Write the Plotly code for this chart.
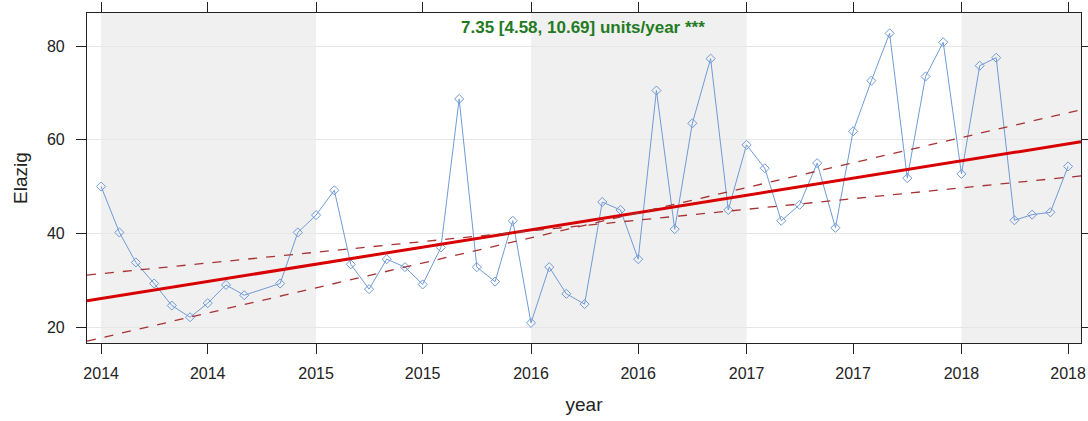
import pandas as pd
import numpy as np
import plotly.graph_objects as go

# ---- data ----
months = [
    "2014-01", "2014-02", "2014-03", "2014-04", "2014-05", "2014-06", "2014-07", "2014-08", "2014-09",
    "2014-11", "2014-12",
    "2015-01", "2015-02", "2015-03", "2015-04", "2015-05", "2015-06", "2015-07", "2015-08", "2015-09",
    "2015-10", "2015-11", "2015-12",
    "2016-01", "2016-02", "2016-03", "2016-04", "2016-05", "2016-06", "2016-07", "2016-08", "2016-09",
    "2016-10", "2016-11", "2016-12",
    "2017-01", "2017-02", "2017-03", "2017-04", "2017-05", "2017-06", "2017-07", "2017-08", "2017-09",
    "2017-10", "2017-11", "2017-12",
    "2018-01", "2018-02", "2018-03", "2018-04", "2018-05", "2018-06", "2018-07",
]
values = [
    50.0, 40.2, 33.8, 29.3, 24.6, 22.1, 25.1, 29.0, 26.8,
    29.3, 40.2,
    43.9, 49.2, 33.4, 28.1, 34.5, 32.8, 29.1, 37.0, 68.7,
    32.8, 29.7, 42.7,
    20.9, 32.8, 27.1, 24.9, 46.7, 45.0, 34.5, 70.5, 40.9,
    63.5, 77.3, 45.0,
    58.9, 53.9, 42.7, 46.1, 55.0, 41.2, 61.8, 72.6, 82.7,
    51.8, 73.5, 80.8,
    52.7, 75.8, 77.5, 42.8, 44.0, 44.5, 54.3,
]

# Theil-Sen trend (units/year) and values at 2014-01-01
trend_slopes = [7.35, 4.58, 10.69]          # main, lower, upper
trend_intercepts = [26.08, 31.4, 17.7]
trend_label = "7.35 [4.58, 10.69] units/year ***"

tick_dates = ["2014-01-01", "2014-07-01", "2015-01-01", "2015-07-01", "2016-01-01",
              "2016-07-01", "2017-01-01", "2017-07-01", "2018-01-01", "2018-07-01"]
tick_labels = ["2014", "2014", "2015", "2015", "2016", "2016", "2017", "2017", "2018", "2018"]
y_ticks = [20, 40, 60, 80]
shaded_years = [("2014-01-01", "2015-01-01"), ("2016-01-01", "2017-01-01"), ("2018-01-01", "2018-07-23")]

x_range = ["2013-12-08", "2018-07-23"]
y_range = [16.6, 87.05]

# ---- figure ----
dates = pd.to_datetime([m + "-01" for m in months])
ref = pd.Timestamp("2014-01-01")
line_x = pd.to_datetime(x_range)
t = np.array([(d - ref).days / 365.25 for d in line_x])

fig = go.Figure()

fig.add_trace(go.Scatter(
    x=dates, y=values, mode="lines+markers",
    line=dict(color="#6f9bd6", width=1),
    marker=dict(symbol="diamond-open", size=7, color="#6f9bd6", line=dict(width=1)),
    showlegend=False,
))

styles = [dict(color="#d80000", width=3), dict(color="#a83232", width=1.3, dash="dash"),
          dict(color="#a83232", width=1.3, dash="dash")]
for s, b, st in zip(trend_slopes, trend_intercepts, styles):
    fig.add_trace(go.Scatter(x=line_x, y=b + s * t, mode="lines", line=st, showlegend=False))

for x0, x1 in shaded_years:
    fig.add_shape(type="rect", xref="x", yref="paper", x0=x0, x1=x1, y0=0, y1=1,
                  fillcolor="#f0f0f0", line=dict(width=0), layer="below")

fig.add_annotation(text="<b>" + trend_label + "</b>", xref="paper", yref="paper",
                   x=0.499, y=0.991, xanchor="center", yanchor="top", showarrow=False,
                   font=dict(family="Liberation Sans, Arial", size=17, color="#237a23"))

fig.update_layout(
    width=1088, height=421,
    margin=dict(l=87, r=7, t=13, b=78, autoexpand=False),
    plot_bgcolor="white", paper_bgcolor="white",
    font=dict(family="Liberation Sans, Arial", size=16, color="#222"),
)
fig.update_xaxes(
    type="date", range=x_range, tickvals=tick_dates, ticktext=tick_labels,
    showgrid=False, zeroline=False, showline=True, linecolor="#222", linewidth=1.2,
    mirror="ticks", ticks="outside", ticklen=10, tickcolor="#222",
    ticklabelstandoff=6, automargin=False,
    title=dict(text="year", font=dict(size=19, color="#222"), standoff=16),
)
fig.update_yaxes(
    range=y_range, tickvals=y_ticks,
    showgrid=True, gridcolor="#e6e6e6", gridwidth=1, zeroline=False,
    showline=True, linecolor="#222", linewidth=1.2,
    mirror="ticks", ticks="outside", ticklen=10, tickcolor="#222", automargin=False,
    ticklabelstandoff=8,
    title=dict(text="Elazig", font=dict(size=19, color="#222"), standoff=14),
)

fig.write_html("out.html", config={"displayModeBar": False},
               post_script="document.body.style.margin='0px';document.body.style.overflow='hidden';")
